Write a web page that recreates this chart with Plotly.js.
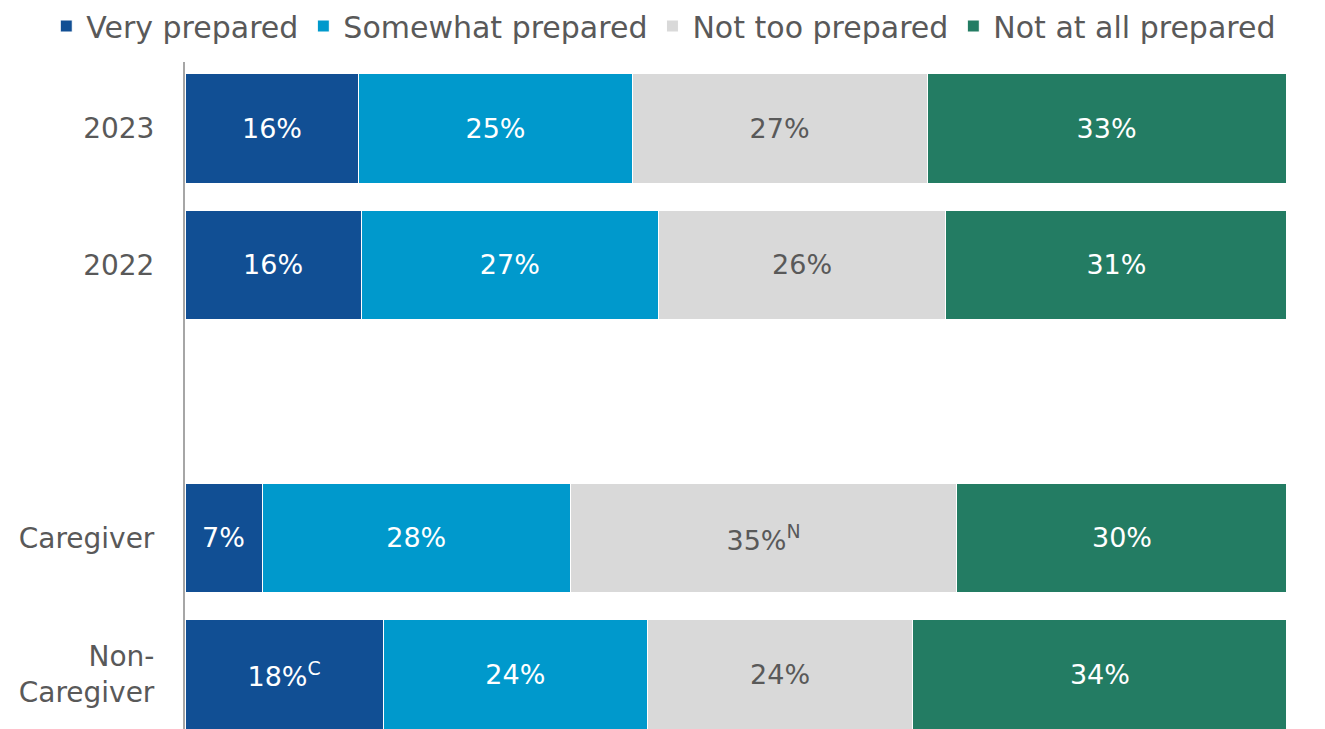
<!DOCTYPE html>
<html>
<head>
<meta charset="utf-8">
<script src="https://cdn.plot.ly/plotly-3.0.1.min.js"></script>
<style>html,body{margin:0;padding:0;background:#fff;}#chart{width:1325px;height:729px;}</style>
</head>
<body>
<div id="chart"></div>
<script>
// Categories (top to bottom); an empty slot sits between 2022 and Caregiver
var categories = ["2023", "2022", "Caregiver", "Non-<br>Caregiver"];
var positions = [0, 1, 3, 4];

var seriesNames = ["Very prepared", "Somewhat prepared", "Not too prepared", "Not at all prepared"];

// Shares (bar lengths, normalised to 100)
var veryPrepared      = [15.8, 16.0, 7.0, 18.0];
var somewhatPrepared  = [24.8, 27.0, 28.0, 24.0];
var notTooPrepared    = [26.8, 26.1, 35.1, 24.1];
var notAtAllPrepared  = [32.6, 31.0, 30.0, 34.0];

// Data labels as printed
var veryLabels      = ["16%", "16%", "7%", "18%<sup>C</sup>"];
var somewhatLabels  = ["25%", "27%", "28%", "24%"];
var notTooLabels    = ["27%", "26%", "35%<sup>N</sup>", "24%"];
var notAtAllLabels  = ["33%", "31%", "30%", "34%"];

var colors = ["#114f94", "#0099cc", "#d9d9d9", "#237c63"];
var textColors = ["#ffffff", "#ffffff", "#595959", "#ffffff"];

var values = [veryPrepared, somewhatPrepared, notTooPrepared, notAtAllPrepared];
var labels = [veryLabels, somewhatLabels, notTooLabels, notAtAllLabels];

var FONT = "DejaVu Sans, sans-serif";

var traces = seriesNames.map(function (name, i) {
  return {
    type: "bar",
    orientation: "h",
    name: name,
    x: values[i],
    y: positions,
    text: labels[i],
    textposition: "inside",
    insidetextanchor: "middle",
    textangle: 0,
    hoverinfo: "skip",
    textfont: {family: FONT, size: 27, color: textColors[i]},
    marker: {color: colors[i], line: {color: "#ffffff", width: 1}}
  };
});

var layout = {
  width: 1325,
  height: 729,
  barmode: "stack",
  bargap: 0.2,
  margin: {l: 185, r: 39, t: 62, b: 0},
  paper_bgcolor: "#ffffff",
  plot_bgcolor: "#ffffff",
  font: {family: FONT, color: "#595959"},
  showlegend: true,
  legend: {
    orientation: "h",
    xref: "paper",
    yref: "paper",
    x: -0.126,
    xanchor: "left",
    y: 1.093,
    yanchor: "top",
    font: {family: FONT, size: 30, color: "#595959"},
    traceorder: "normal",
    itemwidth: 30,
    bgcolor: "rgba(0,0,0,0)"
  },
  xaxis: {
    range: [0, 100],
    visible: false,
    fixedrange: true
  },
  yaxis: {
    range: [4.40, -0.487],
    tickvals: positions,
    ticktext: categories,
    showgrid: false,
    zeroline: false,
    showline: true,
    linecolor: "#a6a6a6",
    linewidth: 2,
    ticks: "",
    ticklabelstandoff: 23,
    tickfont: {family: FONT, size: 28, color: "#595959"},
    fixedrange: true
  }
};

Plotly.newPlot("chart", traces, layout, {displayModeBar: false, staticPlot: true});
</script>
</body>
</html>
